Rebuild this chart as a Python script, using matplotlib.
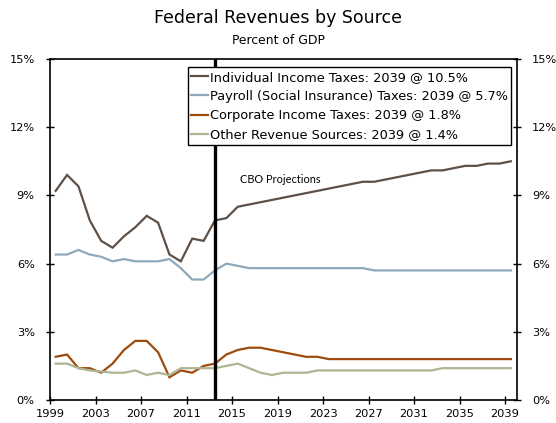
import matplotlib
matplotlib.use("Agg")
import matplotlib.pyplot as plt
import numpy as np

years = list(range(1999, 2040))

individual = [9.2, 9.9, 9.4, 7.9, 7.0, 6.7, 7.2, 7.6, 8.1, 7.8,
              6.4, 6.1, 7.1, 7.0, 7.9, 8.0, 8.5, 8.6, 8.7, 8.8,
              8.9, 9.0, 9.1, 9.2, 9.3, 9.4, 9.5, 9.6, 9.6, 9.7,
              9.8, 9.9, 10.0, 10.1, 10.1, 10.2, 10.3, 10.3, 10.4, 10.4,
              10.5]
payroll = [6.4, 6.4, 6.6, 6.4, 6.3, 6.1, 6.2, 6.1, 6.1, 6.1,
           6.2, 5.8, 5.3, 5.3, 5.7, 6.0, 5.9, 5.8, 5.8, 5.8,
           5.8, 5.8, 5.8, 5.8, 5.8, 5.8, 5.8, 5.8, 5.7, 5.7,
           5.7, 5.7, 5.7, 5.7, 5.7, 5.7, 5.7, 5.7, 5.7, 5.7,
           5.7]
corporate = [1.9, 2.0, 1.4, 1.4, 1.2, 1.6, 2.2, 2.6, 2.6, 2.1,
             1.0, 1.3, 1.2, 1.5, 1.6, 2.0, 2.2, 2.3, 2.3, 2.2,
             2.1, 2.0, 1.9, 1.9, 1.8, 1.8, 1.8, 1.8, 1.8, 1.8,
             1.8, 1.8, 1.8, 1.8, 1.8, 1.8, 1.8, 1.8, 1.8, 1.8,
             1.8]
other = [1.6, 1.6, 1.4, 1.3, 1.25, 1.2, 1.2, 1.3, 1.1, 1.2,
         1.1, 1.4, 1.4, 1.4, 1.4, 1.5, 1.6, 1.4, 1.2, 1.1,
         1.2, 1.2, 1.2, 1.3, 1.3, 1.3, 1.3, 1.3, 1.3, 1.3,
         1.3, 1.3, 1.3, 1.3, 1.4, 1.4, 1.4, 1.4, 1.4, 1.4,
         1.4]

labels = ["Individual Income Taxes: 2039 @ 10.5%",
          "Payroll (Social Insurance) Taxes: 2039 @ 5.7%",
          "Corporate Income Taxes: 2039 @ 1.8%",
          "Other Revenue Sources: 2039 @ 1.4%"]
colors = ["#5E5047", "#8FA9BB", "#9E4C0E", "#AEB592"]

x_ticks = list(range(1999, 2040, 4))
y_ticks = [0, 3, 6, 9, 12, 15]
projection_start = 2013

plt.rcParams["font.family"] = ["DejaVu Sans"]

fig = plt.figure(figsize=(5.56, 4.23), dpi=100)
ax = fig.add_axes([50 / 556, 1 - 400 / 423, 466.5 / 556, 341 / 423])

# each year's value sits in the middle of its year slot
xpos = np.array(years) + 0.5
for series, lab, col in zip([individual, payroll, corporate, other], labels, colors):
    ax.plot(xpos, series, color=col, lw=1.6, label=lab, solid_joinstyle="miter")

ax.axvline(projection_start + 0.5, color="black", lw=2.4, zorder=3)
ax.text(2015.7, 9.72, "CBO Projections", fontsize=7.9, family="Lato",
        va="center", ha="left")

ax.set_xlim(1999, 2040)
ax.set_ylim(0, 15)
ax.set_xticks(x_ticks)
ax.set_xticklabels([str(t) for t in x_ticks])
ax.set_yticks(y_ticks)
ax.set_yticklabels([f"{t}%" for t in y_ticks])

ax.tick_params(axis="both", direction="inout", length=6, width=1, labelsize=8.2,
               colors="black")
ax.tick_params(axis="y", left=True, right=True, labelleft=True, labelright=True, pad=8)
ax.tick_params(axis="x", pad=3.5)
for s in ax.spines.values():
    s.set_linewidth(1.2)

leg = ax.legend(loc="upper left", bbox_to_anchor=(0.295, 0.977), fontsize=9.3,
                frameon=True, fancybox=False, edgecolor="black", framealpha=1,
                handlelength=1.3, handletextpad=0.1, borderpad=0.3,
                labelspacing=0.48, borderaxespad=0)
leg.get_frame().set_linewidth(1.0)
leg.set_zorder(5)

fig.text(0.5, 1 - 18 / 423, "Federal Revenues by Source", ha="center", va="center",
         fontsize=12.5)
fig.text(0.5, 1 - 40 / 423, "Percent of GDP", ha="center", va="center", fontsize=8.9)

fig.savefig("out.png", dpi=100)
